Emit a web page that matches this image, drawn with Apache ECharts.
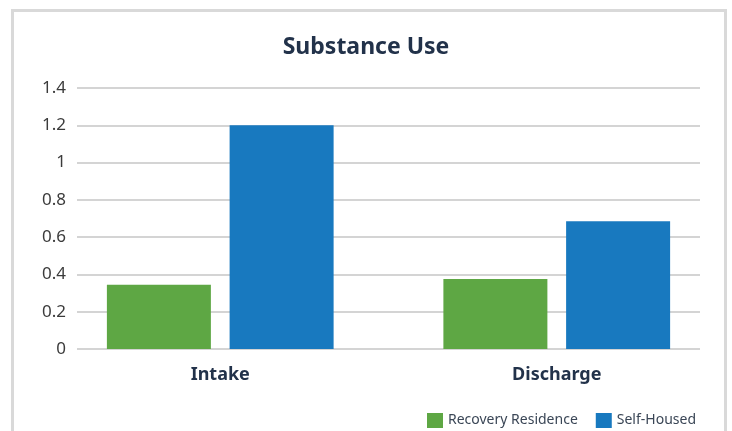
<!DOCTYPE html>
<html>
<head>
<meta charset="utf-8">
<script src="https://cdn.jsdelivr.net/npm/echarts@6/dist/echarts.min.js"></script>
<style>
  html, body { margin: 0; padding: 0; background: #fff; }
  #frame { position: absolute; left: 11px; top: 9px; width: 710px; height: 460px; border: 3px solid #d9d9d9; }
  #container { position: absolute; left: 0; top: 0; width: 732px; height: 431px; }
</style>
</head>
<body>
<div id="frame"></div>
<div id="container"></div>
<script>
const categories = ['Intake', 'Discharge'];
const recoveryResidence = [0.345, 0.375];
const selfHoused = [1.2, 0.685];
const yTicks = { min: 0, max: 1.4, interval: 0.2 };

const font = '"Noto Sans", sans-serif';
const myChart = echarts.init(document.getElementById('container'));
myChart.setOption({
    animation: false,
    title: {
        text: 'Substance Use',
        left: 'center',
        top: 31,
        textStyle: { fontFamily: font, fontSize: 23, fontWeight: 'bold', color: '#22324a' }
    },
    legend: {
        right: 31,
        top: 408,
        itemWidth: 16,
        itemHeight: 15,
        itemGap: 18,
        icon: 'rect',
        textStyle: { fontFamily: font, fontSize: 14, color: '#3a4656' },
        data: ['Recovery Residence', 'Self-Housed']
    },
    grid: [
        { left: 77, right: 32, top: 88, bottom: 82 },
        { left: 52, right: 7, top: 88, bottom: 82 }
    ],
    xAxis: [
        { gridIndex: 0, type: 'value', show: false, min: 0, max: 1 },
        {
            gridIndex: 1,
            type: 'category',
            data: categories,
            axisLine: { show: false },
            axisTick: { show: false },
            axisLabel: { margin: 17, fontFamily: font, fontSize: 18, fontWeight: 'bold', color: '#22324a' }
        }
    ],
    yAxis: [
        {
            gridIndex: 0,
            type: 'value',
            min: yTicks.min,
            max: yTicks.max,
            interval: yTicks.interval,
            axisLine: { show: false },
            axisTick: { show: false },
            splitLine: { lineStyle: { color: '#c6c6c6', width: 1.5 } },
            axisLabel: {
                margin: 11,
                fontFamily: font,
                fontSize: 17,
                color: '#3b3b3b',
                formatter: v => String(Math.round(v * 10) / 10)
            }
        },
        {
            gridIndex: 1,
            type: 'value',
            min: yTicks.min,
            max: yTicks.max,
            interval: yTicks.interval,
            show: false
        }
    ],
    series: [
        {
            name: 'Recovery Residence',
            type: 'bar',
            xAxisIndex: 1,
            yAxisIndex: 1,
            data: recoveryResidence,
            barWidth: 104,
            barGap: '18%',
            itemStyle: { color: '#5ea744' }
        },
        {
            name: 'Self-Housed',
            type: 'bar',
            xAxisIndex: 1,
            yAxisIndex: 1,
            data: selfHoused,
            barWidth: 104,
            barGap: '18%',
            itemStyle: { color: '#1879bf' }
        }
    ]
});
</script>
</body>
</html>
